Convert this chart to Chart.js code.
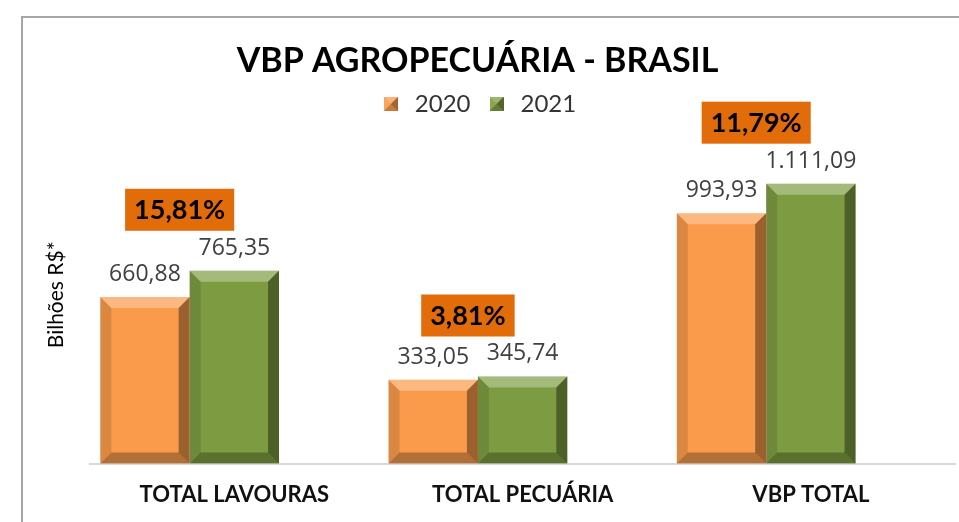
<!DOCTYPE html>
<html>
<head>
<meta charset="utf-8">
<script src="https://cdn.jsdelivr.net/npm/chart.js@4.4.1/dist/chart.umd.min.js"></script>
<style>
  html, body { margin: 0; padding: 0; background: #fff; }
  #wrap { width: 959px; height: 522px; }
</style>
</head>
<body>
<div id="wrap"><canvas id="vbpChart"></canvas></div>
<script>
const categories = ["TOTAL LAVOURAS", "TOTAL PECUÁRIA", "VBP TOTAL"];
const seriesNames = ["2020", "2021"];
const values2020 = [660.88, 333.05, 993.93];
const values2021 = [765.35, 345.74, 1111.09];
const growthLabels = ["15,81%", "3,81%", "11,79%"];

const orange = "#F99B4B";
const green = "#7D9C41";

// 1.111,09 style
function fmtBR(v) {
    const parts = v.toFixed(2).split(".");
    const int = parts[0].replace(/\B(?=(\d{3})+(?!\d))/g, ".");
    return int + "," + parts[1];
}

function legendIcon(color) {
    const c = document.createElement("canvas");
    const s = 14;
    c.width = s; c.height = s;
    const g = c.getContext("2d");
    g.fillStyle = color;
    g.fillRect(0, 0, s, s);
    const tri = (pts, fill) => {
        g.beginPath();
        g.moveTo(pts[0], pts[1]);
        g.lineTo(pts[2], pts[3]);
        g.lineTo(pts[4], pts[5]);
        g.closePath();
        g.fillStyle = fill;
        g.fill();
    };
    tri([0, 0, s, 0, s / 2, s / 2], "rgba(255,255,255,0.25)");
    tri([0, 0, 0, s, s / 2, s / 2], "rgba(255,255,255,0.1)");
    tri([s, 0, s, s, s / 2, s / 2], "rgba(0,0,0,0.35)");
    tri([0, s, s, s, s / 2, s / 2], "rgba(0,0,0,0.2)");
    return c;
}
const icons = [legendIcon(orange), legendIcon(green)];

// grey frame at top and left
const framePlugin = {
    id: "frame",
    beforeDraw(chart) {
        const ctx = chart.ctx;
        ctx.save();
        ctx.strokeStyle = "#a6a6a6";
        ctx.lineWidth = 2;
        ctx.beginPath();
        ctx.moveTo(22, chart.height);
        ctx.lineTo(22, 17);
        ctx.lineTo(chart.width, 17);
        ctx.stroke();
        ctx.restore();
    }
};

// bevel look on the bars + value labels + growth boxes
const bevelPlugin = {
    id: "bevel",
    afterDatasetsDraw(chart) {
        const ctx = chart.ctx;
        ctx.save();
        for (let d = 0; d < 2; d++) {
            chart.getDatasetMeta(d).data.forEach(bar => {
                const l = bar.x - bar.width / 2, r = bar.x + bar.width / 2;
                const t = bar.y, b = bar.base;
                const k = 11;
                const poly = (pts, fill) => {
                    ctx.beginPath();
                    ctx.moveTo(pts[0], pts[1]);
                    for (let i = 2; i < pts.length; i += 2) ctx.lineTo(pts[i], pts[i + 1]);
                    ctx.closePath();
                    ctx.fillStyle = fill;
                    ctx.fill();
                };
                poly([l, t, r, t, r - k, t + k, l + k, t + k], "rgba(255,255,255,0.3)");
                poly([l, t, l + k, t + k, l + k, b - k, l, b], "rgba(0,0,0,0.12)");
                poly([r, t, r, b, r - k, b - k, r - k, t + k], "rgba(0,0,0,0.38)");
                poly([l, b, l + k, b - k, r - k, b - k, r, b], "rgba(0,0,0,0.28)");
            });
        }

        ctx.textAlign = "center";
        ctx.textBaseline = "alphabetic";
        ctx.font = "23px 'Open Sans'";
        ctx.fillStyle = "#404040";
        for (let d = 0; d < 2; d++) {
            const vals = chart.data.datasets[d].data;
            chart.getDatasetMeta(d).data.forEach((bar, i) => {
                ctx.fillText(fmtBR(vals[i]), bar.x, bar.y - 16);
            });
        }

        ctx.font = "bold 27px Lato";
        ctx.textBaseline = "middle";
        const m0 = chart.getDatasetMeta(0).data;
        const m1 = chart.getDatasetMeta(1).data;
        growthLabels.forEach((txt, i) => {
            const cx = m0[i].x + m0[i].width / 2 - 10;
            const cy = m1[i].y - 61;
            const w = ctx.measureText(txt).width + 18;
            const h = 42;
            ctx.fillStyle = "#E26B0A";
            ctx.fillRect(cx - w / 2, cy - h / 2, w, h);
            ctx.fillStyle = "#000";
            ctx.fillText(txt, cx, cy + 1);
        });
        ctx.restore();
    }
};

new Chart(document.getElementById("vbpChart"), {
    type: "bar",
    data: {
        labels: categories,
        datasets: [
            { label: seriesNames[0], data: values2020, backgroundColor: orange },
            { label: seriesNames[1], data: values2021, backgroundColor: green },
            // empty third slot, as in the original sheet
            { label: "", data: [null, null, null], backgroundColor: "rgba(0,0,0,0)" }
        ]
    },
    options: {
        responsive: true,
        maintainAspectRatio: false,
        animation: false,
        layout: { padding: { left: 0, right: 4, top: 0, bottom: -4 } },
        datasets: {
            bar: { categoryPercentage: 0.93, barPercentage: 1, borderWidth: 0 }
        },
        plugins: {
            title: {
                display: true,
                text: "VBP AGROPECUÁRIA - BRASIL",
                color: "#000",
                font: { family: "Lato", size: 34, weight: "bold", lineHeight: 1 },
                padding: { top: 44, bottom: 0 }
            },
            legend: {
                position: "top",
                labels: {
                    color: "#333",
                    font: { family: "Lato", size: 24 },
                    padding: 14,
                    usePointStyle: true,
                    generateLabels(chart) {
                        const items = Chart.defaults.plugins.legend.labels.generateLabels(chart);
                        return items
                            .filter(it => it.datasetIndex < 2)
                            .map(it => Object.assign(it, { pointStyle: icons[it.datasetIndex], lineWidth: 0 }));
                    }
                }
            },
            tooltip: { enabled: false }
        },
        scales: {
            x: {
                grid: { display: false, drawTicks: false },
                border: { color: "#d9d9d9", width: 2 },
                ticks: {
                    color: "#111",
                    padding: 18,
                    font: { family: "Lato", size: 22, weight: "bold" }
                }
            },
            y: {
                min: 0,
                max: 1340,
                grid: { display: false, drawTicks: false },
                border: { display: false },
                ticks: { display: false },
                title: {
                    display: true,
                    text: "Bilhões R$*",
                    color: "#000",
                    font: { family: "Lato", size: 21 },
                    padding: { top: 44, bottom: 21 }
                }
            }
        }
    },
    plugins: [framePlugin, bevelPlugin]
});
</script>
</body>
</html>
